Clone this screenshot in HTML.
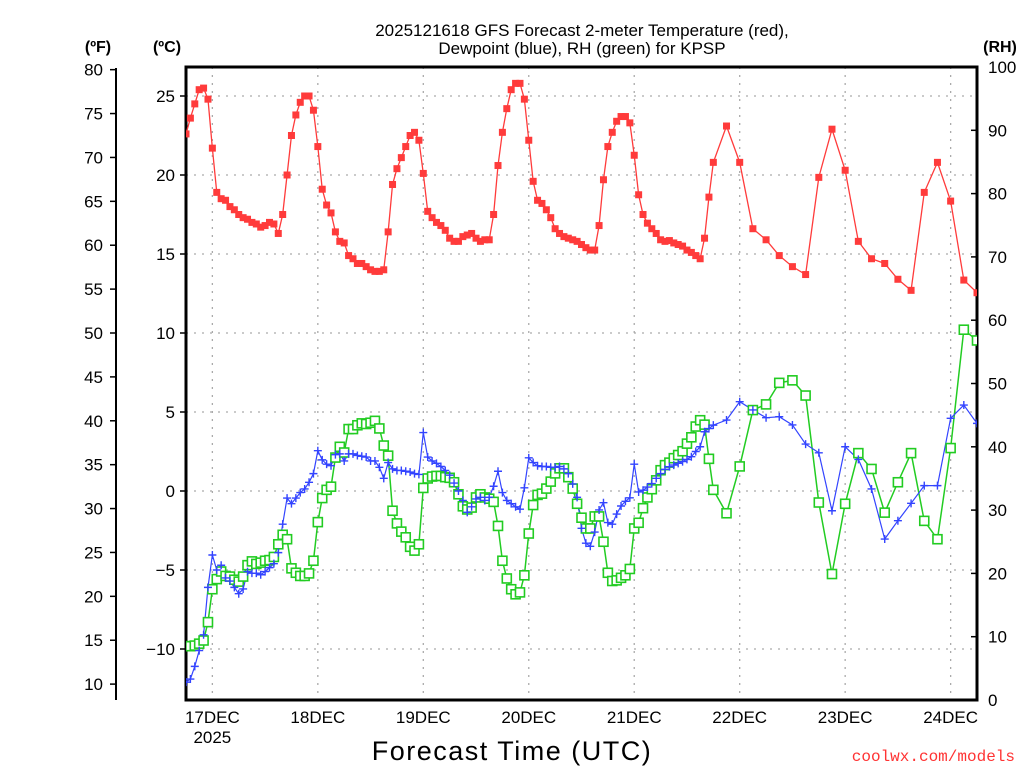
<!DOCTYPE html>
<html><head><meta charset="utf-8"><style>
html,body{margin:0;padding:0;background:#fff;width:1024px;height:768px;overflow:hidden}
svg text{font-family:"Liberation Sans","DejaVu Sans",sans-serif}
</style></head><body>
<svg id="chart" width="1024" height="768" viewBox="0 0 1024 768" xmlns="http://www.w3.org/2000/svg">
<defs><clipPath id="plotclip"><rect x="186" y="67" width="791" height="633"/></clipPath></defs>
<text x="582" y="36" text-anchor="middle" font-size="17" fill="#000">2025121618 GFS Forecast 2-meter Temperature (red),</text>
<text x="582" y="54" text-anchor="middle" font-size="17" fill="#000">Dewpoint (blue), RH (green) for KPSP</text>
<text x="98" y="52" text-anchor="middle" font-size="16" font-weight="bold">(ºF)</text>
<text x="167" y="52" text-anchor="middle" font-size="16" font-weight="bold">(ºC)</text>
<text x="1000" y="52" text-anchor="middle" font-size="16" font-weight="bold">(RH)</text>
<text x="512" y="760" text-anchor="middle" font-size="27" fill="#000" letter-spacing="1.5">Forecast Time (UTC)</text>
<text x="1015" y="761" text-anchor="end" font-size="16" fill="#ff3333" style="font-family:'Liberation Mono',monospace">coolwx.com/models</text>
<g id="grid"></g>
<g id="axes"></g>
<g id="series" clip-path="url(#plotclip)"></g>
</svg>
<script>
// hours: hourly 0..120 then 3-hourly to 180 (from 2025-12-16 18Z)
const tempC = [22.6,23.6,24.5,25.4,25.5,24.8,21.7,18.9,18.5,18.4,18.0,17.8,17.5,17.3,17.2,17.0,16.9,16.7,16.8,17.0,16.9,16.3,17.5,20.0,22.5,23.8,24.6,25.0,25.0,24.1,21.8,19.1,18.1,17.6,16.4,15.8,15.7,14.9,14.7,14.4,14.4,14.2,14.0,13.9,13.9,14.0,16.4,19.4,20.4,21.1,21.8,22.5,22.7,22.2,20.1,17.7,17.3,17.0,16.8,16.5,16.0,15.8,15.8,16.1,16.2,16.3,16.0,15.8,15.9,15.9,17.5,20.6,22.7,24.2,25.4,25.8,25.8,24.8,22.2,19.6,18.4,18.2,17.8,17.3,16.6,16.3,16.1,16.0,15.9,15.8,
15.6,15.4,15.25,15.25,16.8,19.7,21.8,22.7,23.4,23.7,23.7,23.3,21.25,18.75,17.5,16.95,16.6,16.3,15.9,15.8,15.85,15.7,15.6,15.5,15.25,15.1,14.9,14.7,16.0,18.6,20.8,
23.1,20.8,16.6,15.9,14.9,14.2,13.7,19.85,22.9,20.3,15.8,14.7,14.4,13.4,12.7,18.9,20.8,18.35,13.35,12.55];
const dewC = [-12.1,-11.9,-11.1,-10.1,-9.1,-6.1,-4.05,-5.0,-4.7,-5.5,-5.7,-6.1,-6.5,-6.2,-5.1,-5.2,-5.2,-5.3,-5.1,-4.85,-4.6,-3.9,-2.1,-0.45,-0.8,-0.45,-0.1,0.13,0.55,1.1,2.55,1.97,1.7,1.6,2.3,2.35,1.9,2.35,2.35,2.25,2.2,2.15,1.9,1.9,1.5,0.8,1.8,1.4,1.3,1.3,1.25,1.2,1.1,1.05,3.7,2.15,1.9,1.75,1.55,1.3,1.0,0.5,0.0,-0.6,-1.35,-1.0,-0.5,-0.4,-0.6,-0.4,0.3,1.25,-0.1,-0.6,-0.8,-1.0,-1.15,0.2,2.1,1.8,1.6,1.55,1.55,1.5,1.5,1.55,1.4,1.1,0.45,-0.4,
-2.36,-3.3,-3.5,-2.6,-1.2,-0.74,-2.0,-2.1,-1.46,-0.95,-0.65,-0.43,1.7,-0.06,0.05,0.25,0.47,0.8,1.1,1.37,1.54,1.64,1.75,1.86,2.0,2.17,2.5,2.8,3.75,3.95,4.17,
4.49,5.65,5.13,4.64,4.7,4.18,2.97,2.42,-1.25,2.8,2.0,0.13,-3.04,-1.88,-0.78,0.34,0.34,4.6,5.44,4.28];
const rh = [8.5,8.5,8.6,8.9,9.4,12.3,17.5,19.1,20.3,19.6,19.5,19.0,18.7,19.5,21.3,21.9,21.5,21.7,22.0,22.1,22.6,24.6,26.1,25.4,20.8,20.1,19.6,19.6,20.0,22.0,28.1,31.9,33.2,33.7,38.3,40.0,39.1,42.8,42.8,43.4,43.7,43.6,43.8,44.1,42.9,40.2,38.6,29.9,27.9,26.6,25.7,24.2,23.6,24.6,33.5,35.0,35.3,35.4,35.4,35.2,35.1,34.4,32.5,30.6,30.1,30.4,32.0,32.5,32.0,31.8,31.3,27.5,22.0,19.2,17.5,16.7,17.0,19.7,26.3,30.8,32.4,32.6,33.4,34.5,35.8,36.6,36.6,35.2,33.4,31.0,
28.8,27.1,27.1,29.0,29.0,25.0,20.1,18.8,18.9,19.3,19.7,20.7,27.1,28.0,30.3,32.0,33.3,34.7,36.3,37.1,37.5,38.2,38.7,39.3,40.5,41.5,43.2,44.2,43.5,38.1,33.2,
29.5,36.9,45.8,46.7,50.1,50.5,48.1,31.2,19.9,31.0,39.0,36.5,29.6,34.4,39.0,28.3,25.4,39.8,58.5,56.8];
const dayLabels = ["17DEC","18DEC","19DEC","20DEC","21DEC","22DEC","23DEC","24DEC"];
const celsiusTicks = [25,20,15,10,5,0,-5,-10];
const fahrenheitTicks = [80,75,70,65,60,55,50,45,40,35,30,25,20,15,10];
const rhTicks = [0,10,20,30,40,50,60,70,80,90,100];

const NS="http://www.w3.org/2000/svg";
const L=186,R=977,T=67,B=700;
const hours=[];for(let h=0;h<=120;h++)hours.push(h);for(let h=123;h<=180;h+=3)hours.push(h);
const xH=h=>L+(R-L)*h/180;
const yC=c=>491-15.8*c;
const yF=f=>yC((f-32)*5/9);
const yRH=r=>B-(B-T)*r/100;
function mk(tag,attrs,parent){const e=document.createElementNS(NS,tag);for(const k in attrs)e.setAttribute(k,attrs[k]);parent.appendChild(e);return e;}
const grid=document.getElementById('grid'),axes=document.getElementById('axes'),series=document.getElementById('series');

celsiusTicks.forEach(c=>{
  const g=mk('line',{x1:L,x2:R,y1:yC(c),y2:yC(c),stroke:'#aaa','stroke-width':1.3,'stroke-dasharray':'2 6'},grid);
  
  
  const t=mk('line',{x1:L-6,x2:L,y1:yC(c),y2:yC(c),stroke:'#000','stroke-width':1.5},axes);
  
  
  const lb=mk('text',{x:175,y:yC(c)+6,'text-anchor':'end','font-size':17},axes);
  lb.textContent=(c<0?'\u2212':'')+Math.abs(c);
  
  
});
dayLabels.forEach((d,i)=>{
  const x=xH(6+24*i);
  const g=mk('line',{x1:x,x2:x,y1:T,y2:B,stroke:'#aaa','stroke-width':1.3,'stroke-dasharray':'2 6'},grid);
  
  
  const lb=mk('text',{x:x,y:723,'text-anchor':'middle','font-size':17},axes);
  lb.textContent=d;
  
  
});
const yr=mk('text',{x:xH(6),y:743,'text-anchor':'middle','font-size':17},axes);
yr.textContent='2025';



const fl=mk('line',{x1:116,x2:116,y1:68,y2:700,stroke:'#000','stroke-width':2},axes);


fahrenheitTicks.forEach(f=>{
  const t=mk('line',{x1:110,x2:116,y1:yF(f),y2:yF(f),stroke:'#000','stroke-width':1.5},axes);
  
  
  const lb=mk('text',{x:103,y:yF(f)+6,'text-anchor':'end','font-size':17},axes);
  lb.textContent=f;
  
  
});
rhTicks.forEach(r=>{
  const t=mk('line',{x1:R-6,x2:R,y1:yRH(r),y2:yRH(r),stroke:'#000','stroke-width':1.5},axes);
  
  
  const lb=mk('text',{x:988,y:yRH(r)+6,'text-anchor':'start','font-size':17},axes);
  lb.textContent=r;
  
  
});
const box=mk('rect',{x:L,y:T,width:R-L,height:B-T,fill:'none',stroke:'#000','stroke-width':3},axes);



function line(vals,yf,color,w,name){
  const p=mk('polyline',{points:vals.map((v,i)=>xH(hours[i])+','+yf(v)).join(' '),fill:'none',stroke:color,'stroke-width':w},series);
  
  
}
line(rh,yRH,'#22cc22',1.5,'rh-line');
line(dewC,yC,'#3344ff',1.2,'dewpoint-line');
line(tempC,yC,'#ff3b3b',1.3,'temperature-line');
rh.forEach((v,i)=>{
  const m=mk('rect',{x:xH(hours[i])-4.5,y:yRH(v)-4.5,width:9,height:9,fill:'#fff',stroke:'#22cc22','stroke-width':1.6},series);
  
  
});
dewC.forEach((v,i)=>{
  const x=xH(hours[i]),y=yC(v);
  const m=mk('path',{d:`M${x-4},${y}H${x+4}M${x},${y-4}V${y+4}`,stroke:'#3344ff','stroke-width':1.4,fill:'none'},series);
  
  
});
tempC.forEach((v,i)=>{
  const m=mk('rect',{x:xH(hours[i])-3.5,y:yC(v)-3.5,width:7,height:7,fill:'#ff3b3b'},series);
  
  
});
</script>
</body></html>
